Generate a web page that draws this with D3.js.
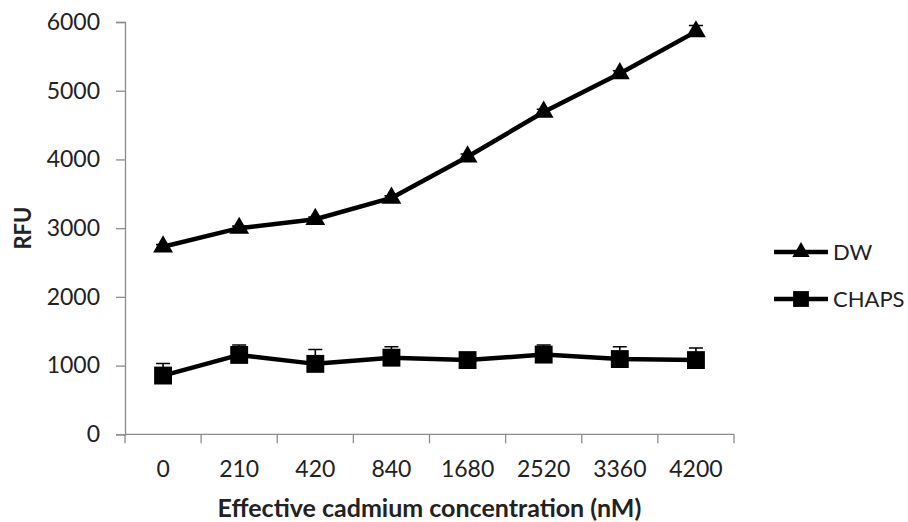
<!DOCTYPE html>
<html>
<head>
<meta charset="utf-8">
<script src="https://cdn.jsdelivr.net/npm/d3@7/dist/d3.min.js"></script>
<style>
  html, body { margin: 0; padding: 0; background: #fff; }
  svg { display: block; }
  text { font-family: Lato, "Open Sans", "Liberation Sans", sans-serif; fill: #222; }
</style>
</head>
<body>
<svg id="chart" width="908" height="522"></svg>
<script>
// Concentration levels (nM), shown as evenly spaced categories
const concentrations = ["0", "210", "420", "840", "1680", "2520", "3360", "4200"];
// Mean fluorescence (RFU) per condition
const dwValues    = [2730, 3000, 3130, 3440, 4040, 4690, 5250, 5860];
const dwErrors    = [30, 30, 30, 30, 40, 40, 40, 90];
const chapsValues = [855, 1155, 1025, 1115, 1080, 1160, 1095, 1080];
const chapsErrors = [175, 145, 210, 160, 60, 140, 180, 175];
const yTicks = [0, 1000, 2000, 3000, 4000, 5000, 6000];
const seriesNames = ["DW", "CHAPS"];

const svg = d3.select("#chart");
const margin = { left: 125, right: 174, top: 22, bottom: 88 };

const x = d3.scaleBand()
  .domain(concentrations)
  .range([margin.left, 734]);

const y = d3.scaleLinear()
  .domain([0, 6000])
  .range([434.3, 22]);

const axisColor = "#8c8c8c";

// Y axis
const yAxis = svg.append("g")
  .attr("transform", `translate(${margin.left},0)`)
  .call(d3.axisLeft(y).tickValues(yTicks).tickSize(9).tickPadding(16).tickFormat(d3.format("d")));
yAxis.select(".domain").attr("stroke", axisColor).attr("stroke-width", 1.3);
yAxis.selectAll(".tick line").attr("stroke", axisColor).attr("stroke-width", 1.3);
yAxis.selectAll(".tick text").attr("font-size", 23).attr("fill", "#222")
  .attr("font-family", "Lato, 'Open Sans', sans-serif");

// X axis with ticks at category boundaries
const xAxisG = svg.append("g").attr("transform", `translate(0,${y(0)})`);
xAxisG.append("line")
  .attr("x1", x.range()[0]).attr("x2", x.range()[1])
  .attr("stroke", axisColor).attr("stroke-width", 1.3);
const boundaries = concentrations.map(c => x(c)).concat([x.range()[1]]);
xAxisG.selectAll("line.tick")
  .data(boundaries)
  .join("line")
  .attr("class", "tick")
  .attr("x1", d => d).attr("x2", d => d)
  .attr("y1", 0).attr("y2", 9)
  .attr("stroke", axisColor).attr("stroke-width", 1.3);
xAxisG.selectAll("text")
  .data(concentrations)
  .join("text")
  .attr("x", d => x(d) + x.bandwidth() / 2)
  .attr("y", 43)
  .attr("text-anchor", "middle")
  .attr("font-size", 23)
  .text(d => d);

// Axis titles
svg.append("text")
  .attr("x", (x.range()[0] + x.range()[1]) / 2)
  .attr("y", 517)
  .attr("text-anchor", "middle")
  .attr("font-size", 25)
  .attr("font-weight", "bold")
  .text("Effective cadmium concentration (nM)");

svg.append("text")
  .attr("transform", `translate(31,${(y(0) + y(6000)) / 2}) rotate(-90)`)
  .attr("text-anchor", "middle")
  .attr("font-size", 22)
  .attr("font-weight", "bold")
  .text("RFU");

const cx = d => x(d) + x.bandwidth() / 2;

function drawSeries(values, errors, symbolType, size) {
  const g = svg.append("g");
  const pts = concentrations.map((c, i) => ({ c, v: values[i], e: errors[i] }));
  // upper error bars
  g.selectAll("path.err")
    .data(pts)
    .join("path")
    .attr("class", "err")
    .attr("d", d => `M${cx(d.c)},${y(d.v)}V${y(d.v + d.e)}M${cx(d.c) - 7},${y(d.v + d.e)}H${cx(d.c) + 7}`)
    .attr("stroke", "#000").attr("stroke-width", 1.6).attr("fill", "none");
  g.append("path")
    .datum(pts)
    .attr("d", d3.line().x(d => cx(d.c)).y(d => y(d.v)))
    .attr("stroke", "#000").attr("stroke-width", 4.5).attr("fill", "none")
    .attr("stroke-linejoin", "round");
  g.selectAll("path.mark")
    .data(pts)
    .join("path")
    .attr("class", "mark")
    .attr("transform", d => `translate(${cx(d.c)},${y(d.v)})`)
    .attr("d", d3.symbol().type(symbolType).size(size))
    .attr("fill", "#000");
}

drawSeries(dwValues, dwErrors, d3.symbolTriangle, 170);
drawSeries(chapsValues, chapsErrors, d3.symbolSquare, 320);

// Legend
const legend = svg.append("g");
const legendRows = [
  { name: seriesNames[0], sym: d3.symbolTriangle, size: 130, y: 252 },
  { name: seriesNames[1], sym: d3.symbolSquare, size: 250, y: 299 }
];
legendRows.forEach(r => {
  legend.append("line")
    .attr("x1", 774).attr("x2", 828)
    .attr("y1", r.y).attr("y2", r.y)
    .attr("stroke", "#000").attr("stroke-width", 4.5);
  legend.append("path")
    .attr("transform", `translate(801,${r.y})`)
    .attr("d", d3.symbol().type(r.sym).size(r.size))
    .attr("fill", "#000");
  legend.append("text")
    .attr("x", 833).attr("y", r.y + 8)
    .attr("font-size", 22)
    .text(r.name);
});
</script>
</body>
</html>
